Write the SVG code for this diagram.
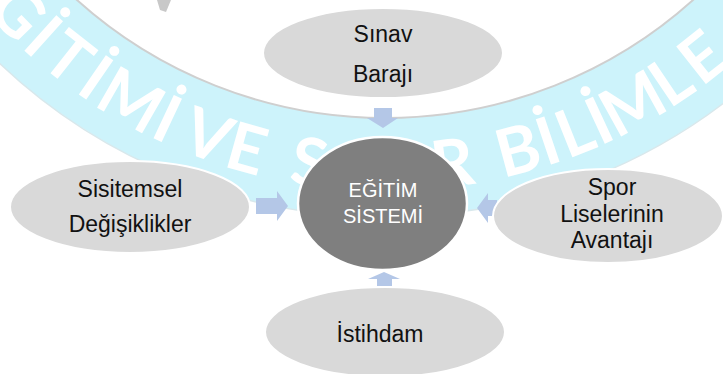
<svg xmlns="http://www.w3.org/2000/svg" width="723" height="374" viewBox="0 0 723 374">
  <style>
    .node { fill: #d9d9d9; stroke: #ffffff; stroke-width: 2; }
    .core { fill: #7f7f7f; stroke: #ffffff; stroke-width: 2.5; }
    .lbl { font-family: "Liberation Sans", Arial, sans-serif; font-size: 23px; fill: #111111; text-anchor: middle; }
    .core-lbl { font-family: "Liberation Sans", Arial, sans-serif; font-size: 20px; fill: #ffffff; text-anchor: middle; }
    .arrow { fill: #b4c7e7; }
    .wm { font-family: Lato, "Open Sans", sans-serif; font-weight: bold; font-size: 66px; fill: #ffffff; text-anchor: middle; }
  </style>
  <rect x="0" y="0" width="723" height="374" fill="#ffffff"/>
  <g id="watermark">
    <circle cx="385" cy="-343" r="560" fill="#cdf3fb" stroke="#d8e8ec" stroke-width="1.5"/>
    <circle cx="385" cy="-343" r="461" fill="#ffffff" stroke="#cfcfcf" stroke-width="2"/>
    <polygon points="157,0 171,0 166,12 160,10" fill="#c8c8c8"/>
    <text class="wm" transform="translate(0.9,28.0) rotate(46.0)">Ğ</text>
    <text class="wm" transform="translate(27.7,53.8) rotate(42.0)">İ</text>
    <text class="wm" transform="translate(54.0,76.1) rotate(38.3)">T</text>
    <text class="wm" transform="translate(82.5,97.1) rotate(34.5)">İ</text>
    <text class="wm" transform="translate(119.6,120.4) rotate(29.8)">M</text>
    <text class="wm" transform="translate(157.6,140.2) rotate(25.2)">İ</text>
    <text class="wm" transform="translate(199.8,157.8) rotate(20.3)">V</text>
    <text class="wm" transform="translate(240.5,171.1) rotate(15.7)">E</text>
    <text class="wm" transform="translate(306.1,185.1) rotate(8.5)">S</text>
    <text class="wm" transform="translate(455.6,186.3) rotate(-7.6)">R</text>
    <text class="wm" transform="translate(524.1,172.6) rotate(-15.1)">B</text>
    <text class="wm" transform="translate(555.3,163.1) rotate(-18.6)">İ</text>
    <text class="wm" transform="translate(583.3,152.8) rotate(-21.8)">L</text>
    <text class="wm" transform="translate(609.0,141.8) rotate(-24.8)">İ</text>
    <text class="wm" transform="translate(643.9,124.0) rotate(-29.0)">M</text>
    <text class="wm" transform="translate(683.6,99.7) rotate(-34.0)">L</text>
    <text class="wm" transform="translate(716.7,75.5) rotate(-38.4)">E</text>
  </g>
  <g id="connectors">
    <polygon class="arrow" points="374,108 392,108 392,118 398,118 383,128 367,118 374,118"/>
    <polygon class="arrow" points="384,272 400,279 392,279 392,286 377,286 377,279 368,279"/>
    <polygon class="arrow" points="256,198 277,198 277,191 288,206 277,221 277,214 256,214"/>
    <polygon class="arrow" points="477,208 488,193 488,200 497,200 497,216 488,216 488,223"/>
  </g>
  <g id="node-sinav">
    <ellipse class="node" cx="383" cy="53" rx="120" ry="45"/>
    <text class="lbl" x="383" y="42">Sınav</text>
    <text class="lbl" x="383" y="82">Barajı</text>
  </g>
  <g id="node-sistemsel">
    <ellipse class="node" cx="130" cy="207" rx="120" ry="46"/>
    <text class="lbl" x="130" y="197">Sisitemsel</text>
    <text class="lbl" x="130" y="232">Değişiklikler</text>
  </g>
  <g id="node-spor">
    <ellipse class="node" cx="608" cy="216" rx="115" ry="47"/>
    <text class="lbl" x="612" y="195">Spor</text>
    <text class="lbl" x="612" y="222">Liselerinin</text>
    <text class="lbl" x="612" y="248">Avantajı</text>
  </g>
  <g id="node-istihdam">
    <ellipse class="node" cx="385" cy="332" rx="120" ry="45"/>
    <text class="lbl" x="380" y="342">İstihdam</text>
  </g>
  <g id="node-egitim">
    <ellipse class="core" cx="382.5" cy="203.5" rx="84.5" ry="66.5"/>
    <text class="core-lbl" x="383" y="197">EĞİTİM</text>
    <text class="core-lbl" x="383" y="223">SİSTEMİ</text>
  </g>
</svg>
